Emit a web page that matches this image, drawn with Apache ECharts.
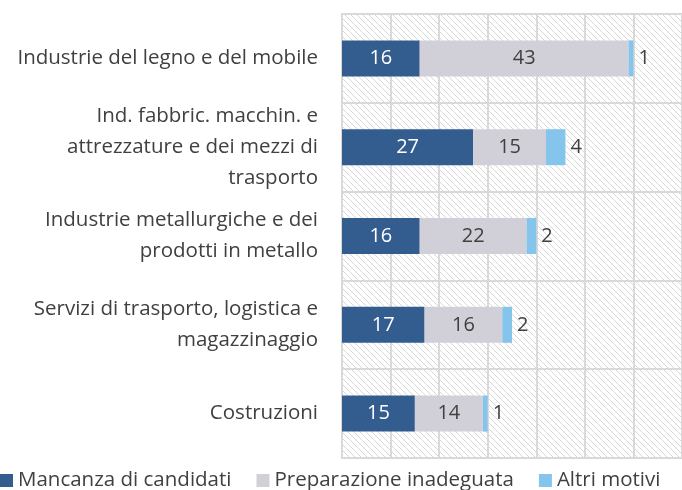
<!DOCTYPE html>
<html>
<head>
<meta charset="utf-8">
<script src="https://cdn.jsdelivr.net/npm/echarts@6/dist/echarts.min.js"></script>
<style>
  html, body { margin: 0; padding: 0; background: #fff; }
  #chart { width: 682px; height: 490px; }
</style>
</head>
<body>
<div id="chart"></div>
<script>
// 数据
const categories = [
  'Industrie del legno e del mobile',
  'Ind. fabbric. macchin. e\nattrezzature e dei mezzi di\ntrasporto',
  'Industrie metallurgiche e dei\nprodotti in metallo',
  'Servizi di trasporto, logistica e\nmagazzinaggio',
  'Costruzioni'
];
const mancanza = [16, 27, 16, 17, 15];
const preparazione = [43, 15, 22, 16, 14];
const altri = [1, 4, 2, 2, 1];

/** 斜线底纹 */
function makeHatch() {
  const c = document.createElement('canvas');
  c.width = 6;
  c.height = 6;
  const ctx = c.getContext('2d');
  ctx.fillStyle = '#ffffff';
  ctx.fillRect(0, 0, 6, 6);
  ctx.strokeStyle = '#d8d8d8';
  ctx.lineWidth = 1;
  ctx.beginPath();
  ctx.moveTo(-1, -1); ctx.lineTo(7, 7);
  ctx.moveTo(-1, 5); ctx.lineTo(1, 7);
  ctx.moveTo(5, -1); ctx.lineTo(7, 1);
  ctx.stroke();
  return c;
}

const font = 'Open Sans';
const chart = echarts.init(document.getElementById('chart'));

const option = {
  animation: false,
  textStyle: { fontFamily: font },
  grid: {
    left: 342, top: 14, width: 342, height: 444,
    show: true,
    backgroundColor: { image: makeHatch(), repeat: 'repeat' },
    borderColor: '#d9d9d9',
    borderWidth: 2
  },
  legend: {
    left: 0,
    top: 470,
    padding: 0,
    icon: 'rect',
    itemWidth: 13,
    itemHeight: 13,
    itemGap: 25,
    textStyle: { color: '#404040', fontSize: 20.5, fontFamily: font }
  },
  xAxis: {
    type: 'value',
    min: 0,
    max: 70,
    interval: 10,
    axisLabel: { show: false },
    axisLine: { show: false },
    axisTick: { show: false },
    splitLine: { lineStyle: { color: '#d9d9d9', width: 2 } }
  },
  yAxis: {
    type: 'category',
    inverse: true,
    data: categories,
    axisLine: { show: false },
    axisTick: { show: false },
    axisLabel: {
      color: '#404040', fontSize: 20.5, fontFamily: font,
      margin: 24, lineHeight: 31, align: 'right'
    },
    splitLine: { show: true, lineStyle: { color: '#d9d9d9', width: 2 } }
  },
  series: [
    {
      name: 'Mancanza di candidati',
      type: 'bar',
      stack: 'tot',
      barWidth: 36,
      data: mancanza,
      itemStyle: { color: '#335c8f' },
      label: { show: true, position: 'inside', color: '#ffffff', fontSize: 20, fontFamily: font }
    },
    {
      name: 'Preparazione inadeguata',
      type: 'bar',
      stack: 'tot',
      barWidth: 36,
      data: preparazione,
      itemStyle: { color: '#d1d0d9' },
      label: { show: true, position: 'inside', color: '#404040', fontSize: 20, fontFamily: font }
    },
    {
      name: 'Altri motivi',
      type: 'bar',
      stack: 'tot',
      barWidth: 36,
      data: altri,
      itemStyle: { color: '#85c4eb' },
      label: { show: true, position: 'right', distance: 5, color: '#404040', fontSize: 20, fontFamily: font }
    }
  ]
};

chart.setOption(option);
</script>
</body>
</html>
